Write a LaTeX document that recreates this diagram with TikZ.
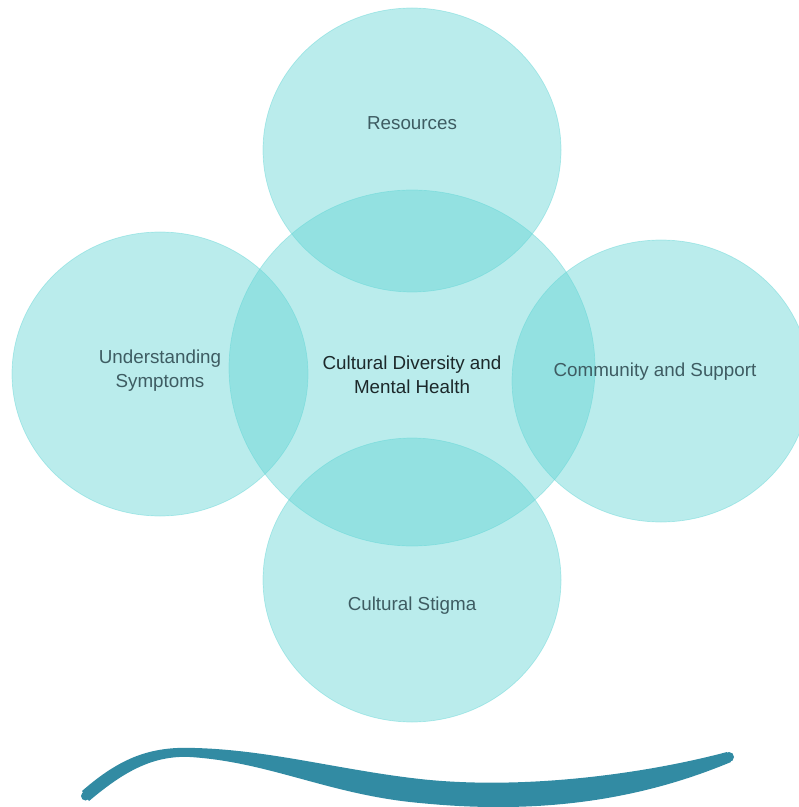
\documentclass[tikz,border=0pt]{standalone}
\usepackage{fontspec}
\setmainfont{Liberation Sans}
\definecolor{ring}{RGB}{97,212,212}
\definecolor{wave}{RGB}{50,139,163}
\definecolor{inktext}{RGB}{62,92,98}
\definecolor{coretext}{RGB}{28,40,42}

\begin{document}
\begin{tikzpicture}[x=0.02cm,y=-0.02cm,
    bubble/.style={fill=ring,fill opacity=0.44,draw=ring,draw opacity=0.45,line width=0.4pt},
    caption/.style={font=\fontsize{10.7}{13.8}\selectfont,text=inktext,align=center}]
        \useasboundingbox (0,0) rectangle (798,807);
        \coordinate (R) at (412,150);
        \coordinate (U) at (160,374);
        \coordinate (M) at (412,368);
        \coordinate (C) at (661,381);
        \coordinate (S) at (412,580);

        % five overlapping bubbles
        \draw[bubble] (R) ellipse (149 and 142);
        \draw[bubble] (U) ellipse (148 and 142);
        \draw[bubble] (M) ellipse (183 and 178);
        \draw[bubble] (C) ellipse (149 and 141);
        \draw[bubble] (S) ellipse (149 and 142);

        % labels
        \node[caption] (res) at (412,123) {Resources};
        \node[caption] (sym) at (160,371) {Understanding\\Symptoms};
        \node[caption,text=coretext] (core) at (412,375) {Cultural Diversity and\\Mental Health};
        \node[caption] (comm) at (655,372) {Community and Support};
        \node[caption] (stig) at (412,606) {Cultural Stigma};

        % wave at the bottom
        \fill[wave] (82,791) .. controls (120,758) and (150,746) .. (195,748)
            .. controls (270,750) and (340,770) .. (420,779)
            .. controls (520,790) and (640,775) .. (727,752)
            -- (731,762) .. controls (640,800) and (540,815) .. (420,803)
            .. controls (330,795) and (270,762) .. (190,757)
            .. controls (150,755) and (120,775) .. (89,801) -- cycle;
        \fill[wave] (85.5,796) circle (4.5);
        \fill[wave] (729,757) circle (5);
    \end{tikzpicture}
\end{document}
